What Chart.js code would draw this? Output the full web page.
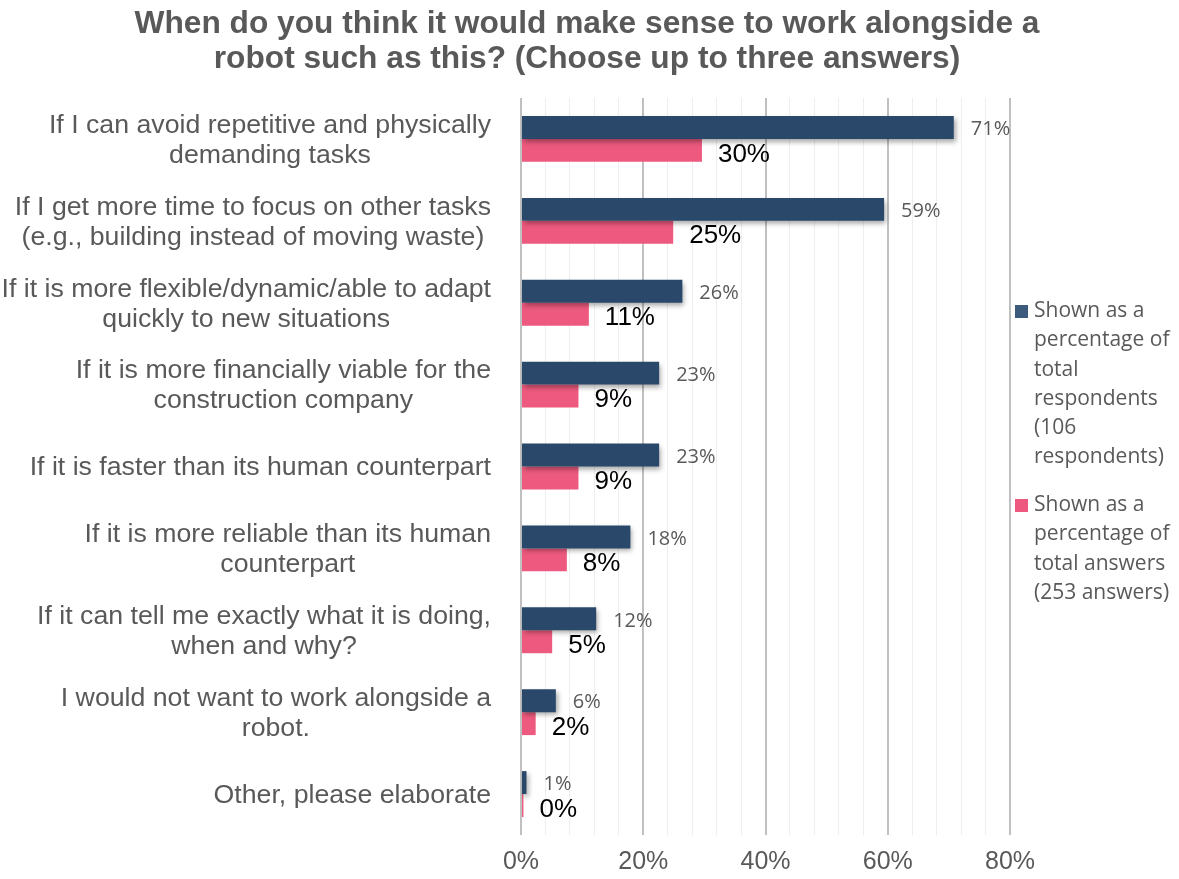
<!DOCTYPE html>
<html>
<head>
<meta charset="utf-8">
<script src="https://cdn.jsdelivr.net/npm/chart.js@4/dist/chart.umd.min.js"></script>
<style>
  html, body { margin: 0; padding: 0; background: #ffffff; }
  #wrap { width: 1179px; height: 879px; position: relative; }
</style>
</head>
<body>
<div id="wrap"><canvas id="chart"></canvas></div>
<script>
// Survey answers, each label wrapped into display lines
const categories = [
  ["If I can avoid repetitive and physically", "demanding tasks"],
  ["If I get more time to focus on other tasks", "(e.g., building instead of moving waste)"],
  ["If it is more flexible/dynamic/able to adapt", "quickly to new situations"],
  ["If it is more financially viable for the", "construction company"],
  ["If it is faster than its human counterpart"],
  ["If it is more reliable than its human", "counterpart"],
  ["If it can tell me exactly what it is doing,", "when and why?"],
  ["I would not want to work alongside a", "robot."],
  ["Other, please elaborate"]
];

// Share of the 106 respondents (%)
const respondentsPct = [70.8, 59.4, 26.4, 22.6, 22.6, 17.9, 12.3, 5.7, 0.9];
// Share of the 253 answers (%)
const answersPct = [29.6, 24.9, 11.1, 9.4, 9.4, 7.5, 5.1, 2.4, 0.4];

// Labelled axis ticks (%), minor gridlines every 4 %
const xTickLabels = [0, 20, 40, 60, 80];
const xMinorStep = 4;

const seriesNames = [
  ["Shown as a", "percentage of", "total", "respondents", "(106", "respondents)"],
  ["Shown as a", "percentage of", "total answers", "(253 answers)"]
];

const titleLines = [
  "When do you think it would make sense to work alongside a",
  "robot such as this? (Choose up to three answers)"
];

const NAVY = '#29486a';
const PINK = '#ee5a7f';
const GREY_TEXT = '#595959';
const ARIAL = '"Liberation Sans", Arial, sans-serif';
const CALI = '"Open Sans", "Noto Sans", sans-serif';

// Two-line title centred across the page
const pageTitle = {
  id: 'pageTitle',
  afterDraw(chart) {
    const ctx = chart.ctx;
    ctx.save();
    ctx.font = 'bold 31.7px ' + ARIAL;
    ctx.fillStyle = GREY_TEXT;
    ctx.textAlign = 'center';
    ctx.textBaseline = 'middle';
    titleLines.forEach((l, k) => ctx.fillText(l, 587, 24 + k * 35));
    ctx.restore();
  }
};

// Soft drop shadow under the navy bars
const barShadow = {
  id: 'barShadow',
  beforeDatasetDraw(chart, args) {
    if (args.index !== 0) return;
    const ctx = chart.ctx;
    ctx.save();
    ctx.shadowColor = 'rgba(0,0,0,0.35)';
    ctx.shadowBlur = 5;
    ctx.shadowOffsetX = 2;
    ctx.shadowOffsetY = 3;
  },
  afterDatasetDraw(chart, args) {
    if (args.index !== 0) return;
    chart.ctx.restore();
  }
};

// Category labels: each block right-aligned, its lines centred
const categoryLabels = {
  id: 'categoryLabels',
  afterDraw(chart) {
    const ctx = chart.ctx;
    const yScale = chart.scales.y;
    const right = 491;
    const lh = 30;
    ctx.save();
    ctx.font = '26.7px ' + ARIAL;
    ctx.fillStyle = GREY_TEXT;
    ctx.textAlign = 'center';
    ctx.textBaseline = 'middle';
    categories.forEach((lines, i) => {
      const y = yScale.getPixelForValue(i);
      const w = Math.max(...lines.map(l => ctx.measureText(l).width));
      const cx = right - w / 2;
      const top = y - (lines.length - 1) * lh / 2;
      lines.forEach((l, k) => ctx.fillText(l, cx, top + k * lh + 1.5));
    });
    ctx.restore();
  }
};

// Value labels at the end of every bar
const valueLabels = {
  id: 'valueLabels',
  afterDatasetsDraw(chart) {
    const ctx = chart.ctx;
    ctx.save();
    ctx.textAlign = 'left';
    ctx.textBaseline = 'middle';
    chart.data.datasets.forEach((ds, di) => {
      const meta = chart.getDatasetMeta(di);
      meta.data.forEach((el, i) => {
        const txt = Math.round(ds.data[i]) + '%';
        if (di === 0) {
          ctx.font = '20px ' + CALI;
          ctx.fillStyle = GREY_TEXT;
          ctx.fillText(txt, el.x + 17, el.y + 2);
        } else {
          ctx.font = '26px ' + ARIAL;
          ctx.fillStyle = '#000000';
          ctx.fillText(txt, el.x + 16, el.y + 4);
        }
      });
    });
    ctx.restore();
  }
};

// Legend drawn to the right of the plot with wrapped entries
const sideLegend = {
  id: 'sideLegend',
  afterDraw(chart) {
    const ctx = chart.ctx;
    const colors = ['#3d5b7c', PINK];
    const starts = [311, 505];
    const lh = 29.3;
    ctx.save();
    ctx.font = '21px ' + CALI;
    ctx.textAlign = 'left';
    ctx.textBaseline = 'middle';
    seriesNames.forEach((lines, s) => {
      ctx.fillStyle = colors[s];
      ctx.fillRect(1015, starts[s] - 6, 13, 13);
      ctx.fillStyle = GREY_TEXT;
      lines.forEach((l, k) => ctx.fillText(l, 1034, starts[s] + k * lh));
    });
    ctx.restore();
  }
};

new Chart(document.getElementById('chart'), {
  type: 'bar',
  data: {
    labels: categories.map(c => c.join(' ')),
    datasets: [
      { label: seriesNames[0].join(' '), data: respondentsPct, backgroundColor: NAVY,
        categoryPercentage: 0.56, barPercentage: 1.0 },
      { label: seriesNames[1].join(' '), data: answersPct, backgroundColor: PINK,
        categoryPercentage: 0.56, barPercentage: 1.0 }
    ]
  },
  options: {
    indexAxis: 'y',
    responsive: true,
    maintainAspectRatio: false,
    animation: false,
    layout: { padding: { left: 0, right: 169, top: 98, bottom: 0 } },
    plugins: {
      legend: { display: false },
      tooltip: { enabled: false },
      title: { display: false }
    },
    scales: {
      x: {
        min: xTickLabels[0],
        max: xTickLabels[xTickLabels.length - 1],
        ticks: {
          stepSize: xMinorStep,
          autoSkip: false,
          maxRotation: 0,
          padding: 12,
          color: GREY_TEXT,
          font: { family: ARIAL, size: 25 },
          callback: v => xTickLabels.includes(v) ? v + '%' : ''
        },
        grid: {
          drawTicks: false,
          color: c => xTickLabels.includes(c.tick.value) ? '#c0c0c0' : '#eeeeee',
          lineWidth: c => xTickLabels.includes(c.tick.value) ? 2 : 1
        },
        border: { display: false },
        afterFit: s => { s.height = 44; }
      },
      y: {
        ticks: { display: false },
        grid: { display: false },
        border: { display: false },
        afterFit: s => { s.width = 521; }
      }
    }
  },
  plugins: [pageTitle, barShadow, categoryLabels, valueLabels, sideLegend]
});
</script>
</body>
</html>
